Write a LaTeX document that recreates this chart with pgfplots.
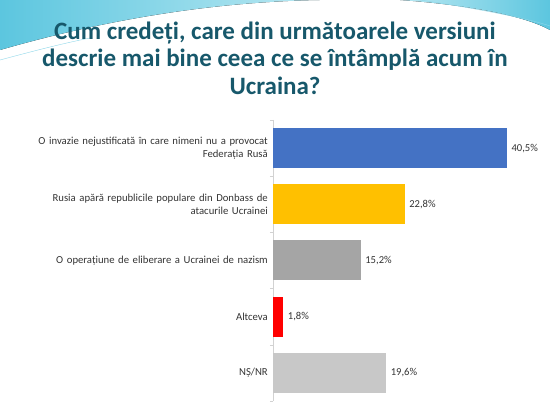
\documentclass[border=0pt]{standalone}
\usepackage{pgfplots}
\pgfplotsset{compat=1.18}
\usepackage{fontspec}
\setmainfont{Carlito}
\definecolor{titlec}{HTML}{17586B}
\definecolor{cyanA}{HTML}{5CC6DF}
\definecolor{cyanB}{HTML}{B9E8F2}
\definecolor{barblue}{HTML}{4472C4}
\definecolor{baryellow}{HTML}{FFC000}
\definecolor{bargray}{HTML}{A5A5A5}
\definecolor{barred}{HTML}{FF0000}
\definecolor{barlight}{HTML}{C8C8C8}
\definecolor{labc}{HTML}{333333}
\begin{document}
\begin{tikzpicture}[x=1pt,y=1pt]
\path[use as bounding box] (0pt,0pt) rectangle (550pt,412pt);
\fill[left color=cyanA, right color=cyanB] (0pt,412pt) -- (0pt,362pt) .. controls (90pt,388pt) and (200pt,410pt) .. (320pt,412pt) -- cycle;
\fill[left color=cyanB, right color=cyanA] (400pt,412pt) .. controls (470pt,407pt) and (525pt,396pt) .. (550pt,382pt) -- (550pt,412pt) -- cycle;
\draw[cyanA!70, line width=0.4pt] (420pt,412pt) .. controls (480pt,403pt) and (530pt,393pt) .. (550pt,386pt);
\draw[cyanA!70, line width=0.4pt] (0pt,352pt) .. controls (30pt,360pt) and (60pt,368pt) .. (90pt,374pt);
\node[align=center, font=\fontsize{25}{27.5}\selectfont\bfseries, text=titlec] at (275pt,354pt)
  {Cum credeți, care din următoarele versiuni\\descrie mai bine ceea ce se întâmplă acum în\\Ucraina?};
\begin{axis}[
  at={(273pt,11pt)}, anchor=south west, scale only axis,
  width=260pt, height=281pt,
  xmin=0, xmax=45, ymin=-0.5, ymax=4.5, y dir=reverse,
  xbar, bar width=40pt, bar shift=0pt,
  axis x line=none, axis y line*=left,
  y axis line style={draw=gray!35},
  ytick={0,1,2,3,4},
  minor ytick={-0.5,0.5,1.5,2.5,3.5,4.5},
  yticklabels={{O invazie nejustificată în care nimeni nu a provocat\\Federația Rusă},
               {Rusia apără republicile populare din Donbass de\\atacurile Ucrainei},
               {O operațiune de eliberare a Ucrainei de nazism},
               {Altceva},
               {NȘ/NR}},
  yticklabel style={text width=250pt, align=right, font=\fontsize{10.7}{13.5}\selectfont, text=labc, inner xsep=5pt},
  major tick length=0pt, minor tick length=3pt,
  tick align=outside,
  minor tick style={draw=gray!35},
  /pgf/number format/assume math mode=true,
  nodes near coords={\pgfmathprintnumber[use comma,fixed,fixed zerofill,precision=1]{\pgfplotspointmeta}\%},
  nodes near coords style={font=\fontsize{10.6}{13}\selectfont, text=labc, anchor=west, xshift=1pt},
  clip=false,
]
\addplot[fill=barblue, draw=none] coordinates {(40.5,0)};
\addplot[fill=baryellow, draw=none] coordinates {(22.8,1)};
\addplot[fill=bargray, draw=none] coordinates {(15.2,2)};
\addplot[fill=barred, draw=none] coordinates {(1.8,3)};
\addplot[fill=barlight, draw=none] coordinates {(19.6,4)};
\end{axis}
\end{tikzpicture}
\end{document}
